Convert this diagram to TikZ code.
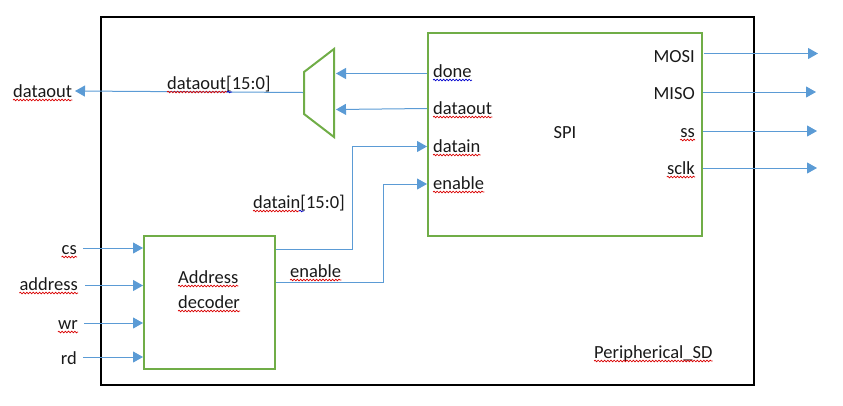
\documentclass[tikz,border=0pt]{standalone}
\usepackage{fontspec}
\setmainfont{Carlito}
\usetikzlibrary{arrows.meta,decorations.pathmorphing}
\definecolor{wireblue}{HTML}{5B9BD5}
\definecolor{boxgreen}{HTML}{70AD47}
\tikzset{
  x=1pt,y=-1pt,
  wire/.style={draw=wireblue,line width=1pt},
  sig/.style={wire,-{Triangle[length=10pt,width=11pt,fill=wireblue]}},
  gbox/.style={draw=boxgreen,line width=2pt,fill=none},
  txt/.style={inner sep=0pt,yshift=-1pt,font=\fontsize{18.5}{22}\selectfont,text=black!90},
  redsq/.style={draw=red!85!black,line width=.7pt,decorate,decoration={snake,amplitude=.8pt,segment length=3.2pt}},
  bluesq/.style={draw=blue!80!black,line width=.7pt,decorate,decoration={snake,amplitude=.8pt,segment length=3.2pt}},
}
\newcommand{\squig}[1]{\draw[redsq] ([yshift=-3pt]#1.base west) -- ([yshift=-3pt]#1.base east);}
\begin{document}
\begin{tikzpicture}
\useasboundingbox (0,0) rectangle (843,405);
% frames
\draw[black,line width=2.4pt] (101,17) rectangle (754,385);
\node[gbox,minimum width=274pt,minimum height=203pt,inner sep=0pt] (spi) at (565,134.5) {};
\node[gbox,minimum width=131pt,minimum height=133pt,inner sep=0pt] (dec) at (209.5,302.5) {};
\draw[gbox,line join=miter] (334,49) coordinate (m1) -- (304,72) -- (304,114) -- (334,137) -- cycle;
\coordinate (muxd) at (336,73.5);
\coordinate (muxq) at (336,109.5);
\coordinate (muxo) at (303,92.5);
% texts
\node[txt,anchor=base west] (tout) at (13,96) {dataout};
\node[txt,anchor=base west] (tbus) at (167,88) {dataout[15:0]};
\node[txt,anchor=base west] (tdone) at (433,76) {done};
\node[txt,anchor=base west] (tdo) at (433,113) {dataout};
\node[txt,anchor=base west] (tdi) at (433,151) {datain};
\node[txt,anchor=base west] (ten) at (433,188) {enable};
\node[txt,anchor=base] (tspi) at (565,137) {SPI};
\node[txt,anchor=base east] (tmosi) at (695,61) {MOSI};
\node[txt,anchor=base east] (tmiso) at (695,98) {MISO};
\node[txt,anchor=base east] (tss) at (695,136) {ss};
\node[txt,anchor=base east] (tsclk) at (695,173) {sclk};
\node[txt,anchor=base west] (tdbus) at (253,207) {datain[15:0]};
\node[txt,anchor=base east] (tcs) at (77,253) {cs};
\node[txt,anchor=base east] (taddr) at (78,289) {address};
\node[txt,anchor=base east] (twr) at (78,328) {wr};
\node[txt,anchor=base east] (trd) at (77,363) {rd};
\node[txt,anchor=base west] (taddress) at (178,282) {Address};
\node[txt,anchor=base west] (tdecoder) at (178,307) {decoder};
\node[txt,anchor=base west] (tenable) at (290,276) {enable};
\node[txt,anchor=base west] (tper) at (594,357) {Peripherical\_SD};
% wire ends
\coordinate (extout) at (75,91);
\coordinate (mo) at (818,53.5);
\coordinate (mi) at (816,92);
\coordinate (sso) at (817,131);
\coordinate (sc) at (817,168);
% connectors
\draw[sig] (muxo) -- (extout);
\draw[sig] (spi.west |- muxd) -- (muxd);
\draw[sig] (spi.west |- 0,108.5) -- (muxq);
\draw[sig] (dec.east |- 0,249) -- (352.5,249) -- (352.5,146.5) -- (spi.west |- 0,146.5);
\draw[sig] (dec.east |- 0,282) -- (383,282) -- (383,184) -- (spi.west |- 0,184);
\draw[sig] (83,248) -- (dec.west |- 0,248);
\draw[sig] (85,285.5) -- (dec.west |- 0,285.5);
\draw[sig] (84,323) -- (dec.west |- 0,323);
\draw[sig] (83,357) -- (dec.west |- 0,357);
\draw[sig] (704,53.5) -- (mo);
\draw[sig] (spi.east |- mi) -- (mi);
\draw[sig] (spi.east |- sso) -- (sso);
\draw[sig] (spi.east |- sc) -- (sc);
% spelling marks
\squig{tout}
\squig{tdo}
\squig{tdi}
\squig{ten}
\squig{tss}
\squig{tsclk}
\squig{tcs}
\squig{taddr}
\squig{twr}
\squig{taddress}
\squig{tdecoder}
\squig{tenable}
\draw[redsq] ([yshift=-3pt]tbus.base west) -- ++(60,0) coordinate (b1);
\draw[bluesq] (b1) -- ++(5,0);
\draw[redsq] ([yshift=-3pt]tdbus.base west) -- ++(46,0) coordinate (b2);
\draw[bluesq] (b2) -- ++(5,0);
\draw[bluesq] ([yshift=-3pt]tdone.base west) -- ([yshift=-3pt]tdone.base east);
\draw[redsq] ([yshift=-3pt]tper.base west) -- ([yshift=-3pt]tper.base east);
\end{tikzpicture}
\end{document}
